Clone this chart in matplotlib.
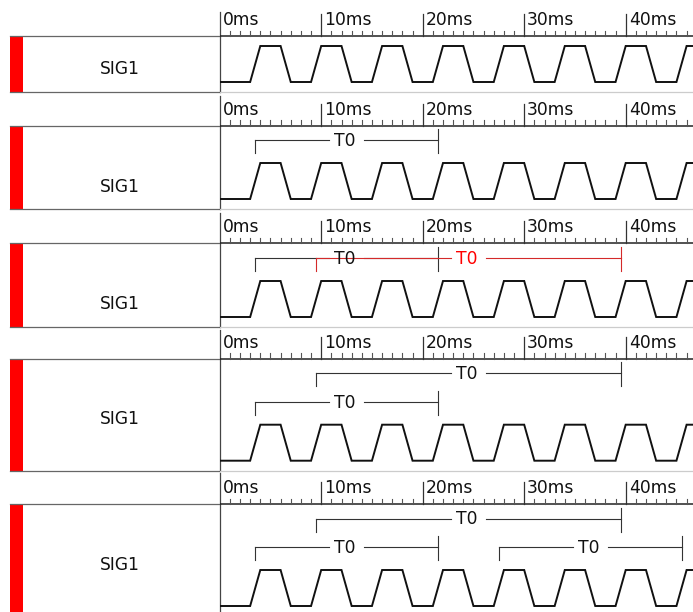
import matplotlib.pyplot as plt

W, H, DPI = 693, 612, 100
X0 = 219.7      # pixel x of 0 ms
PX_MS = 10.15   # pixels per ms

# signal waveform: breakpoints in ms and level (0 = low, 1 = high)
sig_t = [0, 3, 4, 6, 7, 9, 10, 12, 13, 15, 16, 18, 19, 21, 22, 24, 25,
         27, 28, 30, 31, 33, 34, 36, 37, 39, 40, 42, 43, 45, 46, 48]
sig_v = [0, 0, 1, 1, 0, 0, 1, 1, 0, 0, 1, 1, 0, 0, 1, 1, 0,
         0, 1, 1, 0, 0, 1, 1, 0, 0, 1, 1, 0, 0, 1, 1]

major_ms = [0, 10, 20, 30, 40]
major_lbl = ["0ms", "10ms", "20ms", "30ms", "40ms"]
minor_ms = list(range(0, 47))

sig_names = ["SIG1", "SIG1", "SIG1", "SIG1", "SIG1"]

# measurement brackets per panel: (start ms, end ms, label, row, colour)
brackets = [
    [],
    [(3.5, 21.5, "T0", 0, "k")],
    [(3.5, 21.5, "T0", 0, "k"), (9.5, 39.5, "T0", 0, "r")],
    [(9.5, 39.5, "T0", 0, "k"), (3.5, 21.5, "T0", 1, "k")],
    [(9.5, 39.5, "T0", 0, "k"), (3.5, 21.5, "T0", 1, "k"), (27.5, 45.5, "T0", 1, "k")],
]

# panel layout in pixels: ruler line, box bottom, separator top, label baseline
ruler_y = [36, 125.7, 243.3, 358.5, 504]
bottom_y = [92, 209, 327, 470.7, 616]
sep_top = [12, 96, 213, 330, 473]
name_y = [74, 192, 309, 424, 570]

fig = plt.figure(figsize=(W / DPI, H / DPI), dpi=DPI)
fig.patch.set_facecolor("white")

ax0 = fig.add_axes([0, 0, 1, 1])
ax0.set_xlim(0, W)
ax0.set_ylim(H, 0)
ax0.axis("off")

ax = fig.add_axes([X0 / W, 0, 1 - X0 / W, 1])
ax.set_xlim(0, (W - X0) / PX_MS)
ax.set_ylim(H, 0)
ax.axis("off")

for i in range(5):
    top = ruler_y[i]
    bot = bottom_y[i]
    low = bot - 10
    high = low - 36

    # label cell
    ax0.fill_between([10, 22.5], top, bot, color="#ff0000", lw=0)
    ax0.plot([10, X0], [top, top], color="#666666", lw=0.9)
    ax0.plot([10, X0], [bot, bot], color="#666666", lw=0.9)
    ax0.plot([X0, X0], [sep_top[i], bot], color="#444444", lw=0.9)
    ax0.text(120, name_y[i], sig_names[i], ha="center", va="baseline",
             fontsize=12.3, color="#111111")

    # ruler
    ax.plot([0, 50], [top, top], color="#222222", lw=1.1)
    ax.plot([0, 50], [bot, bot], color="#cccccc", lw=0.9)
    for m in minor_ms:
        if m % 10:
            ax.plot([m, m], [top - 5.5, top], color="#555555", lw=0.8)
    for m, lbl in zip(major_ms, major_lbl):
        if m:
            ax.plot([m, m], [top - 22, top], color="#333333", lw=0.9)
        ax.text(m + 0.3, top - 11, lbl, ha="left", va="baseline",
                fontsize=12.3, color="#111111")

    # waveform
    ys = [low if v == 0 else high for v in sig_v]
    ax.plot([-0.2] + sig_t, [low] + ys, color="#111111", lw=1.4,
            solid_joinstyle="miter")

    # measurement brackets
    for s, e, lbl, row, c in brackets[i]:
        by = top + (14.5 if row == 0 else 43)
        lc = "#333333" if c == "k" else "#d42a2a"
        tc = "#111111" if c == "k" else "#ff0000"
        mid = (s + e) / 2
        gap = 1.72
        ax.plot([s, s], [by + 13, by], color=lc, lw=0.8)
        ax.plot([s, mid - gap], [by, by], color=lc, lw=0.8)
        ax.plot([mid + gap, e], [by, by], color=lc, lw=0.8)
        ax.plot([e, e], [by - 11, by + 13], color=lc, lw=0.8)
        ax.text(mid - 0.15, by + 6, lbl, ha="center", va="baseline",
                fontsize=12.3, color=tc)

fig.savefig("out.png", dpi=DPI, facecolor="white")
